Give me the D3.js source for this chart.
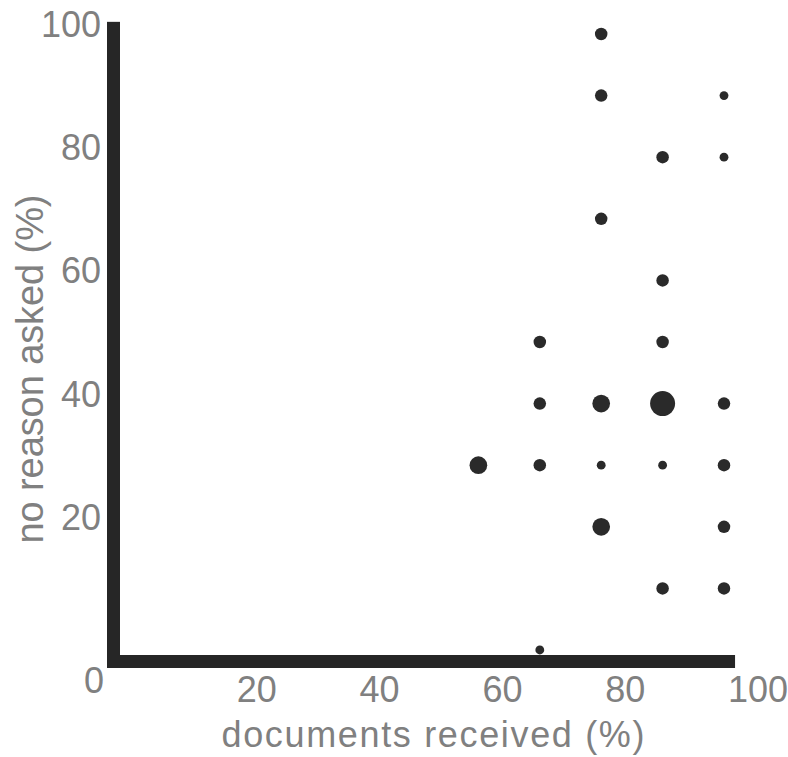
<!DOCTYPE html>
<html>
<head>
<meta charset="utf-8">
<script src="https://cdn.jsdelivr.net/npm/d3@7/dist/d3.min.js"></script>
<style>
  html, body { margin: 0; padding: 0; background: #fff; }
  svg { display: block; }
  text { font-family: "Liberation Sans", Arial, sans-serif; fill: #808080; }
</style>
</head>
<body>
<svg id="chart" width="788" height="757"></svg>
<script>
// ---- data ----
const xValues = [60, 70, 70, 70, 70, 80, 80, 80, 80, 80, 80, 90, 90, 90, 90, 90, 90, 100, 100, 100, 100, 100, 100];
const yValues = [30, 50, 40, 30, 0, 100, 90, 70, 40, 30, 20, 80, 60, 50, 40, 30, 10, 90, 80, 40, 30, 20, 10];
const counts  = [4, 2, 2, 2, 1, 2, 2, 2, 4, 1, 4, 2, 2, 2, 8, 1, 2, 1, 1, 2, 2, 2, 2];
const xTicks = [20, 40, 60, 80, 100];
const yTicks = [20, 40, 60, 80, 100];
const originLabel = "0";
const xTitle = "documents received (%)";
const yTitle = "no reason asked (%)";

// ---- layout ----
const svg = d3.select("#chart");
const x = d3.scaleLinear().domain([0, 100]).range([110, 724]);
const y = d3.scaleLinear().domain([0, 100]).range([650, 34]);
const r = d3.scaleSqrt().domain([0, 8]).range([0, 12.5]);
const axisW = 13;
const axisColor = "#262626";
const axisLeft = 107, axisBottom = 668;

// axis lines
svg.append("rect")
  .attr("x", axisLeft).attr("y", y(101) - 6)
  .attr("width", axisW).attr("height", axisBottom - (y(101) - 6))
  .attr("fill", axisColor);
svg.append("rect")
  .attr("x", axisLeft).attr("y", axisBottom - axisW)
  .attr("width", x(101.8) - axisLeft).attr("height", axisW)
  .attr("fill", axisColor);

// points
const pts = xValues.map((v, i) => ({ x: v, y: yValues[i], n: counts[i] }));
svg.append("g").selectAll("circle")
  .data(pts).join("circle")
  .attr("cx", d => x(d.x))
  .attr("cy", d => y(d.y))
  .attr("r", d => r(d.n))
  .attr("fill", "#2a2a2a");

// x tick labels (left-aligned at tick)
svg.append("g").selectAll("text")
  .data(xTicks).join("text")
  .attr("x", d => x(d) + 4)
  .attr("y", 702)
  .attr("text-anchor", "start")
  .attr("font-size", 36)
  .text(d => d);

// origin label
svg.append("text")
  .attr("x", x(0) - 16)
  .attr("y", 693)
  .attr("text-anchor", "middle")
  .attr("font-size", 36)
  .text(originLabel);

// y tick labels
svg.append("g").selectAll("text")
  .data(yTicks).join("text")
  .attr("x", 101)
  .attr("y", d => y(d) + 3)
  .attr("text-anchor", "end")
  .attr("font-size", 36)
  .text(d => d);

// axis titles
svg.append("text")
  .attr("x", 433).attr("y", 747)
  .attr("text-anchor", "middle")
  .attr("font-size", 36)
  .attr("textLength", 423)
  .attr("lengthAdjust", "spacing")
  .text(xTitle);

svg.append("text")
  .attr("transform", "translate(43,369) rotate(-90)")
  .attr("text-anchor", "middle")
  .attr("font-size", 38)
  .attr("textLength", 349)
  .attr("lengthAdjust", "spacing")
  .text(yTitle);
</script>
</body>
</html>
